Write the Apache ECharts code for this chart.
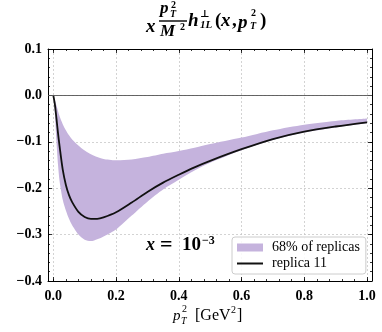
<!DOCTYPE html>
<html>
<head>
<meta charset="utf-8">
<script src="https://cdn.jsdelivr.net/npm/echarts@6/dist/echarts.min.js"></script>
<style>
  html, body { margin: 0; padding: 0; background: #fff; }
  #chart { width: 382px; height: 332px; }
</style>
</head>
<body>
<div id="chart"></div>
<script>
// pT^2 grid and values
const pt2 = [0, 0.005, 0.01, 0.015, 0.02, 0.03, 0.04, 0.05, 0.06, 0.08, 0.1, 0.12, 0.14, 0.16,
  0.2, 0.25, 0.3, 0.35, 0.4, 0.45, 0.5, 0.6, 0.7, 0.8, 0.9, 1.0];
const replica11 = [0, -0.02, -0.05, -0.082, -0.11, -0.16, -0.193, -0.215, -0.23, -0.251, -0.262, -0.266, -0.266, -0.263,
  -0.252, -0.231, -0.208, -0.188, -0.171, -0.155, -0.141, -0.116, -0.094, -0.078, -0.067, -0.058];
const bandUpper = [0, -0.01, -0.022, -0.034, -0.045, -0.062, -0.075, -0.086, -0.095, -0.108, -0.119, -0.127, -0.133, -0.137,
  -0.14, -0.138, -0.133, -0.126, -0.12, -0.113, -0.105, -0.091, -0.075, -0.063, -0.055, -0.05];
const bandLower = [0, -0.04, -0.1, -0.15, -0.185, -0.225, -0.248, -0.266, -0.28, -0.3, -0.311, -0.314, -0.31, -0.304,
  -0.289, -0.259, -0.229, -0.203, -0.182, -0.162, -0.145, -0.118, -0.096, -0.08, -0.069, -0.06];

const xTicks = [0, 0.2, 0.4, 0.6, 0.8, 1.0];
const yTicks = [-0.4, -0.3, -0.2, -0.1, 0, 0.1];
const xMinor = [];
for (let i = 0; i <= 25; i++) xMinor.push(+(i * 0.04).toFixed(2));
const yMinor = [];
for (let i = 0; i <= 25; i++) yMinor.push(+(-0.4 + i * 0.02).toFixed(2));

const bandColor = '#c5b3dd';
const serif = '"Liberation Serif", "DejaVu Serif", serif';

function fmt(v) {
  return (v < -1e-9 ? '\u2212' : '') + Math.abs(v).toFixed(1);
}

const curveData = pt2.map((x, i) => [x, replica11[i]]);
const bandData = pt2.map((x, i) => [x, bandLower[i], bandUpper[i]]);

// smooth path through pixel points (catmull-rom -> bezier)
function smoothSeg(pts, first) {
  let d = first ? 'M' + pts[0][0] + ',' + pts[0][1] : 'L' + pts[0][0] + ',' + pts[0][1];
  const t = 0.8;
  for (let i = 0; i < pts.length - 1; i++) {
    const p0 = pts[Math.max(i - 1, 0)], p1 = pts[i], p2 = pts[i + 1], p3 = pts[Math.min(i + 2, pts.length - 1)];
    const c1x = p1[0] + (p2[0] - p0[0]) / 6 * t, c1y = p1[1] + (p2[1] - p0[1]) / 6 * t;
    const c2x = p2[0] - (p3[0] - p1[0]) / 6 * t, c2y = p2[1] - (p3[1] - p1[1]) / 6 * t;
    d += 'C' + c1x + ',' + c1y + ',' + c2x + ',' + c2y + ',' + p2[0] + ',' + p2[1];
  }
  return d;
}

function xAx(pos, ticks, len, main) {
  return {
    type: 'value', min: -0.017, max: 1.016, position: pos, gridIndex: 0,
    axisLine: { show: main, onZero: false, lineStyle: { color: '#000', width: 1 } },
    axisTick: { show: true, inside: true, length: len, customValues: ticks, lineStyle: { color: '#000', width: 0.8 } },
    axisLabel: {
      show: main && pos === 'bottom', customValues: xTicks, formatter: fmt, margin: 8,
      fontFamily: serif, fontWeight: 'bold', fontSize: 14, color: '#000'
    },
    splitLine: { show: main && pos === 'bottom', lineStyle: { type: [2, 2], color: '#c8c8c8', width: 0.8 } }
  };
}
function yAx(pos, ticks, len, main) {
  return {
    type: 'value', min: -0.4, max: 0.1, interval: 0.1, position: pos, gridIndex: 0,
    axisLine: { show: main, onZero: false, lineStyle: { color: '#000', width: 1 } },
    axisTick: { show: true, inside: true, length: len, customValues: ticks, lineStyle: { color: '#000', width: 0.8 } },
    axisLabel: {
      show: main && pos === 'left', customValues: yTicks, formatter: fmt, margin: 6,
      fontFamily: serif, fontWeight: 'bold', fontSize: 14, color: '#000'
    },
    splitLine: { show: main && pos === 'left', lineStyle: { type: [2, 2], color: '#c8c8c8', width: 0.8 } }
  };
}

const mathFont = (size) => 'italic bold ' + size + 'px ' + serif;
const romFont = (size) => 'bold ' + size + 'px ' + serif;
const itFont = (size) => 'italic ' + size + 'px ' + serif;
const regFont = (size) => size + 'px ' + serif;
function txt(s, x, y, font) {
  return { type: 'text', silent: true, style: { text: s, x: x, y: y, font: font, fill: '#000', verticalAlign: 'middle', align: 'left' } };
}

const chart = echarts.init(document.getElementById('chart'), null, { renderer: 'canvas' });
chart.setOption({
  animation: false,
  grid: { left: 48, right: 10, top: 49, bottom: 51 },
  xAxis: [xAx('bottom', xTicks, 4, true), xAx('bottom', xMinor, 2, false), xAx('top', xTicks, 4, true), xAx('top', xMinor, 2, false)],
  yAxis: [yAx('left', yTicks, 4, true), yAx('left', yMinor, 2, false), yAx('right', yTicks, 4, true), yAx('right', yMinor, 2, false)],
  legend: {
    orient: 'vertical', left: 232, top: 237,
    backgroundColor: 'rgba(255,255,255,0.85)', borderColor: '#cccccc', borderWidth: 1, borderRadius: 3,
    padding: [3, 6, 3, 5], itemGap: 1, itemWidth: 26, itemHeight: 8,
    textStyle: { fontFamily: serif, fontSize: 14, lineHeight: 15, color: '#000', padding: [0, 0, 0, 4] },
    data: [
      { name: '68% of replicas', icon: 'rect' },
      { name: 'replica 11', icon: 'path://M0,0H26V2H0Z' }
    ]
  },
  series: [
    {
      name: '68% of replicas', type: 'custom', data: bandData, z: 2, silent: true,
      itemStyle: { color: bandColor },
      renderItem: function (params, api) {
        if (params.dataIndex !== 0) return;
        const up = bandData.map(d => api.coord([d[0], d[2]]));
        const lo = bandData.map(d => api.coord([d[0], d[1]])).reverse();
        const path = smoothSeg(up, true) + smoothSeg(lo, false) + 'Z';
        return { type: 'path', shape: { pathData: path }, style: { fill: bandColor, stroke: null } };
      },
      markLine: {
        silent: true, symbol: 'none', label: { show: false },
        lineStyle: { type: 'solid', color: '#555', width: 0.9 },
        data: [{ yAxis: 0 }]
      }
    },
    {
      name: 'replica 11', type: 'line', data: curveData, symbol: 'none', smooth: 0.3,
      itemStyle: { color: '#111' }, lineStyle: { color: '#111', width: 1.8 }, z: 3
    }
  ],
  graphic: [
    // title: x pT^2/M^2 h_1L^perp(x, pT^2)
    txt('x', 146, 27, mathFont(19)),
    txt('p', 160, 9, mathFont(17)),
    txt('2', 171, 5, romFont(10)),
    txt('T', 170, 14, mathFont(10)),
    { type: 'line', silent: true, shape: { x1: 159, y1: 21, x2: 187, y2: 21 }, style: { stroke: '#000', lineWidth: 1.4 } },
    txt('M', 160, 32, mathFont(17)),
    txt('2', 180, 27, romFont(10)),
    txt('h', 188, 21, mathFont(19)),
    txt('\u22a5', 200, 14, romFont(10)),
    txt('1L', 200, 25, mathFont(11)),
    txt('(', 215, 21, romFont(19)),
    txt('x', 221, 21, mathFont(19)),
    txt(',', 232, 21, romFont(19)),
    txt('p', 238, 23, mathFont(19)),
    txt('2', 251, 13, romFont(10)),
    txt('T', 250, 26, mathFont(10)),
    txt(')', 260, 21, romFont(19)),
    // x = 10^-3
    txt('x', 146, 245, mathFont(18)),
    txt('=', 160, 245, romFont(22)),
    txt('10', 182, 245, romFont(19)),
    txt('\u22123', 202, 241, romFont(12)),
    // axis label pT^2 [GeV^2]
    txt('p', 173, 316, itFont(15)),
    txt('2', 182, 309, regFont(10)),
    txt('T', 181, 321, itFont(10)),
    txt('[GeV', 195, 316, regFont(16)),
    txt('2', 231, 310, regFont(10)),
    txt(']', 237, 316, regFont(16))
  ]
});
</script>
</body>
</html>
